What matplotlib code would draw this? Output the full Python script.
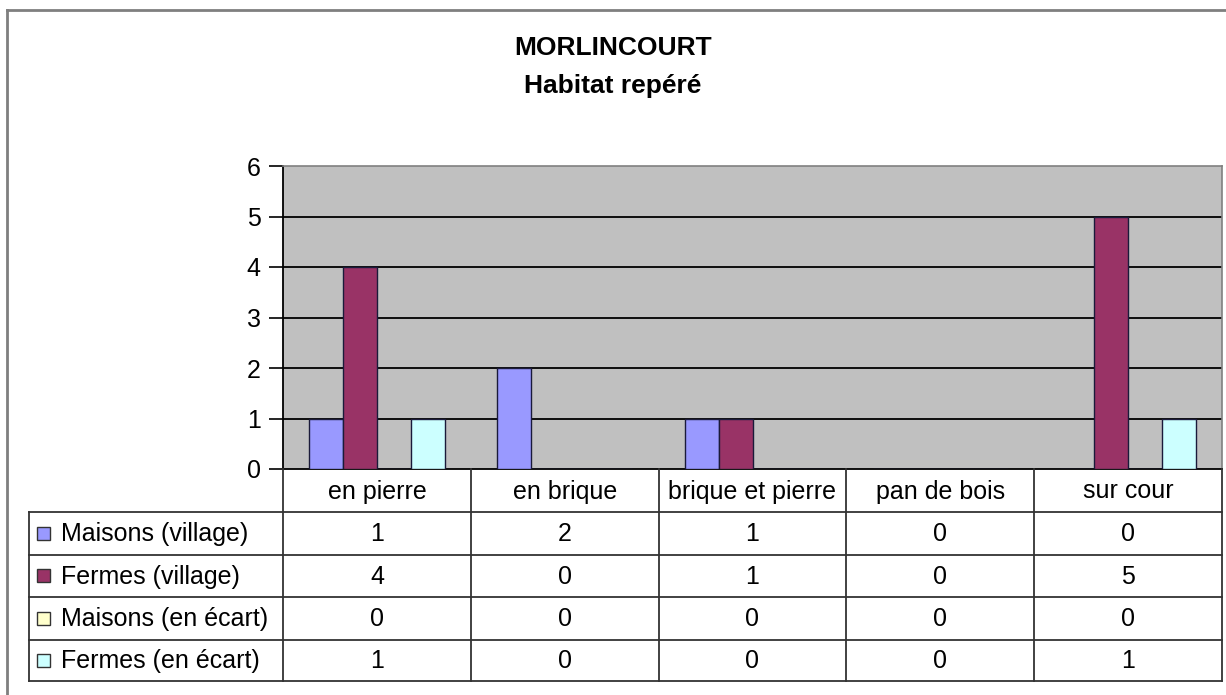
import matplotlib
matplotlib.use("Agg")
import matplotlib.pyplot as plt
import matplotlib.transforms as mtransforms
from matplotlib.patches import Rectangle

plt.rcParams['font.family'] = ['Liberation Sans', 'DejaVu Sans']

title_lines = ["MORLINCOURT", "Habitat repéré"]
categories = ["en pierre", "en brique", "brique et pierre", "pan de bois", "sur cour"]
series_names = ["Maisons (village)", "Fermes (village)", "Maisons (en écart)", "Fermes (en écart)"]
maisons_village = [1, 2, 1, 0, 0]
fermes_village = [4, 0, 1, 0, 5]
maisons_ecart = [0, 0, 0, 0, 0]
fermes_ecart = [1, 0, 0, 0, 1]
series_values = [maisons_village, fermes_village, maisons_ecart, fermes_ecart]
colors = ["#9999FF", "#993366", "#FFFFCC", "#CCFFFF"]
yticks = [0, 1, 2, 3, 4, 5, 6]

W, H = 1226, 695
fig = plt.figure(figsize=(W / 100, H / 100), dpi=100)
fig.patch.set_facecolor("white")

# plot area in pixel geometry
px_l, px_r, px_t, px_b = 283, 1222, 166, 469
ax = fig.add_axes([px_l / W, 1 - px_b / H, (px_r - px_l) / W, (px_b - px_t) / H])
ax.set_facecolor("#C0C0C0")
ax.set_xlim(0, len(categories))
ax.set_ylim(0, 6)

bw = 0.18
n = len(series_values)
for k, vals in enumerate(series_values):
    xs = [i + 0.5 + (k - (n - 1) / 2) * bw for i in range(len(categories))]
    ax.bar(xs, vals, width=bw, color=colors[k], edgecolor="#1a1a3a", linewidth=1.0, zorder=3)

ax.set_yticks(yticks)
ax.set_yticklabels([str(t) for t in yticks], fontsize=18)
ax.set_xticks([])
for y in yticks[1:-1]:
    ax.axhline(y, color="black", linewidth=1.3, zorder=1)
ax.tick_params(axis="y", length=10, width=1.2, color="black", pad=6)
for s in ["top", "right"]:
    ax.spines[s].set_color("#808080")
    ax.spines[s].set_linewidth(1.2)
ax.spines["left"].set_color("black")
ax.spines["left"].set_linewidth(1.3)
ax.spines["bottom"].set_color("black")
ax.spines["bottom"].set_linewidth(1.3)

# overlay in pixel coordinates
ov = fig.add_axes([0, 0, 1, 1], zorder=5)
ov.set_xlim(0, W)
ov.set_ylim(H, 0)
ov.axis("off")
ov.patch.set_alpha(0)

# outer frame (top & left visible)
ov.plot([7, 7], [10, H + 5], color="#7f7f7f", lw=2.0, clip_on=False)
ov.plot([7, W + 5], [10, 10], color="#7f7f7f", lw=2.0, clip_on=False)

# title
ov.text(W / 2, 48, title_lines[0], ha="center", va="center", fontsize=19, fontweight="bold")
ov.text(W / 2, 86, title_lines[1], ha="center", va="center", fontsize=19, fontweight="bold")

# data table
blend = mtransforms.blended_transform_factory(ax.transData, ov.transData)
ncat = len(categories)
row_edges = [469, 512, 554.5, 597, 639.5, 681]
tbl_left = 29
lc = "#333333"
lw = 1.3
for i in range(ncat + 1):
    ov.plot([i, i], [row_edges[0], row_edges[-1]], color=lc, lw=lw, transform=blend)
ov.plot([tbl_left, tbl_left], [row_edges[1], row_edges[-1]], color=lc, lw=lw)
for y in row_edges[1:]:
    ov.plot([tbl_left, px_r], [y, y], color=lc, lw=lw)

hy = (row_edges[0] + row_edges[1]) / 2
for i, c in enumerate(categories):
    ov.text(i + 0.5, hy + 1, c, ha="center", va="center", fontsize=18, transform=blend)

for k, (name, vals) in enumerate(zip(series_names, series_values)):
    yc = (row_edges[k + 1] + row_edges[k + 2]) / 2
    ov.add_patch(Rectangle((37, yc - 6.5), 13, 13, facecolor=colors[k], edgecolor="#333333", lw=1.0))
    ov.text(61, yc + 1, name, ha="left", va="center", fontsize=18)
    for i, v in enumerate(vals):
        ov.text(i + 0.5, yc + 1, str(v), ha="center", va="center", fontsize=18, transform=blend)

fig.savefig("out.png", dpi=100, facecolor="white")
